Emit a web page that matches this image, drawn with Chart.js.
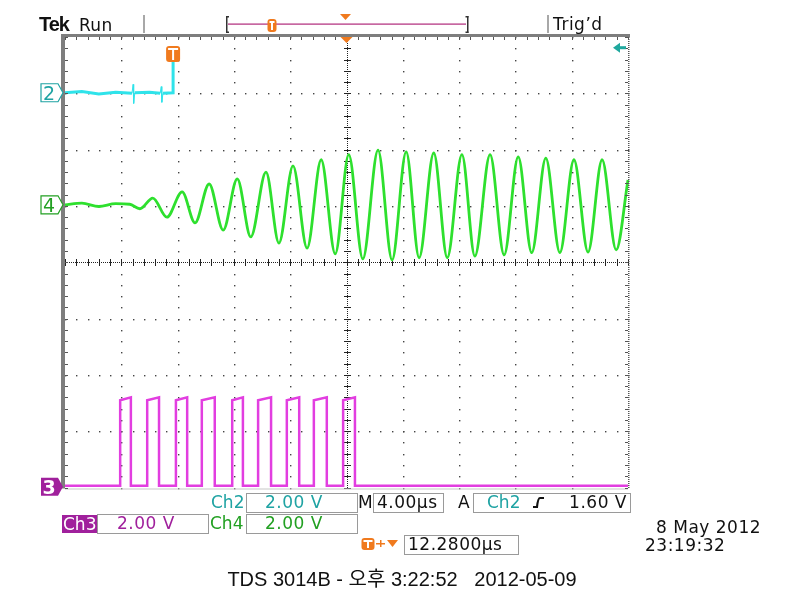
<!DOCTYPE html>
<html lang="ko">
<head>
<meta charset="utf-8">
<title>TDS 3014B</title>
<style>
  html, body { margin: 0; padding: 0; background: #fff; }
  #wrap { width: 800px; height: 600px; position: relative; }
</style>
</head>
<body>
<div id="wrap"><canvas id="scope"></canvas></div>
<script src="https://cdn.jsdelivr.net/npm/chart.js"></script>
<script>
// screen: 10 x 8 divisions, all trace values are in divisions
const xRange = [0, 10];
const yRange = [-4, 4];

// Ch2 (cyan) - stops at the trigger point
const ch2X = [0, 0.3, 0.6, 0.9, 1.19, 1.21, 1.22, 1.24, 1.5, 1.69, 1.71, 1.72, 1.74, 1.92, 1.92];
const ch2Y = [3.01, 3.03, 2.99, 3.02, 3.0, 3.16, 2.82, 3.01, 3.02, 3.0, 3.12, 2.84, 3.0, 3.01, 3.59];

// Ch4 (green) - growing oscillation, peaks and troughs
const ch4X = [0, 0.3, 0.6, 0.9, 1.15, 1.33, 1.56, 1.81, 2.08, 2.31, 2.56, 2.81, 3.06, 3.30, 3.57, 3.80,
              4.05, 4.30, 4.55, 4.80, 5.04, 5.29, 5.56, 5.81, 6.06, 6.29, 6.55, 6.79, 7.05, 7.28,
              7.55, 7.80, 8.05, 8.29, 8.54, 8.79, 9.04, 9.29, 9.54, 9.79, 10.0];
const ch4Y = [1.02, 1.05, 0.99, 1.04, 1.03, 0.95, 1.14, 0.80, 1.25, 0.70, 1.39, 0.57, 1.48, 0.45, 1.60, 0.34,
              1.71, 0.25, 1.82, 0.15, 1.91, 0.06, 1.99, 0.04, 1.96, 0.08, 1.94, 0.08, 1.91, 0.11,
              1.91, 0.13, 1.87, 0.17, 1.85, 0.17, 1.82, 0.18, 1.82, 0.22, 1.46];

// Ch3 (magenta) - pulse train
const ch3Low = -3.97;
const ch3High = -2.40;
const ch3Rise = [0.98, 1.46, 1.97, 2.43, 2.97, 3.43, 3.94, 4.42, 4.94];
const ch3Fall = [1.17, 1.67, 2.17, 2.66, 3.16, 3.66, 4.16, 4.65, 5.15];

// readouts
const chLabels = ['Ch2', 'Ch3', 'Ch4'];
const chVolts = ['2.00 V', '2.00 V', '2.00 V'];
const timeDiv = '4.00\u00b5s';
const trigLevel = '1.60 V';
const trigDelay = '12.2800\u00b5s';

const ch4Pts = ch4X.map((x, i) => ({ x: x, y: ch4Y[i] }));
const ch2Pts = ch2X.map((x, i) => ({ x: x, y: ch2Y[i] }));
const ch3Pts = [{ x: 0, y: ch3Low }];
ch3Rise.forEach((r, i) => {
    ch3Pts.push({ x: r, y: ch3Low }, { x: r, y: ch3High - 0.05 }, { x: ch3Fall[i], y: ch3High },
                { x: ch3Fall[i], y: ch3Low });
});
ch3Pts.push({ x: 10, y: ch3Low });

const TEAL = '#1fa3a3', GREEN = '#22a022', PURPLE = '#a0209c', ORANGE = '#f07a1e';
const SCOPE_FONT = '"DejaVu Sans", sans-serif';

function txt(ctx, s, x, y, color, size, opts) {
    opts = opts || {};
    ctx.save();
    ctx.font = (opts.bold ? 'bold ' : '') + size + 'px ' + (opts.family || SCOPE_FONT);
    ctx.fillStyle = color;
    ctx.textAlign = opts.align || 'left';
    ctx.textBaseline = 'alphabetic';
    ctx.letterSpacing = (opts.spacing || 0) + 'px';
    ctx.fillText(s, x, y);
    ctx.restore();
}

function box(ctx, x0, y0, x1, y1) {
    ctx.strokeStyle = '#9a9a9a';
    ctx.lineWidth = 1;
    ctx.strokeRect(x0 + 0.5, y0 + 0.5, x1 - x0, y1 - y0);
}

function tMarker(ctx, cx, top, w, h) {
    ctx.fillStyle = ORANGE;
    ctx.beginPath();
    ctx.roundRect(cx - w / 2, top, w, h, 3);
    ctx.fill();
    ctx.fillStyle = '#fff';
    ctx.fillRect(cx - w / 2 + 2, top + 2, w - 4, 2);
    ctx.fillRect(cx - 1, top + 2, 2, h - 4);
}

function chMarker(ctx, y, label, color, filled) {
    const x0 = 41, x1 = 58, tip = 63, h = 9;
    ctx.beginPath();
    ctx.moveTo(x0, y - h); ctx.lineTo(x1, y - h); ctx.lineTo(tip, y);
    ctx.lineTo(x1, y + h); ctx.lineTo(x0, y + h); ctx.closePath();
    if (filled) {
        ctx.fillStyle = color; ctx.fill();
    } else {
        ctx.fillStyle = '#fff'; ctx.fill();
        ctx.strokeStyle = color; ctx.lineWidth = 1.2; ctx.stroke();
    }
    txt(ctx, label, 49, y + 7, filled ? '#fff' : color, 19, { align: 'center', bold: filled });
}

const scopeDeco = {
    id: 'scopeDeco',
    beforeDatasetsDraw(chart) {
        const ctx = chart.ctx, xs = chart.scales.x, ys = chart.scales.y;
        const a = chart.chartArea;
        ctx.save();
        ctx.fillStyle = '#444';
        // dotted graticule
        for (let i = 1; i < 10; i++) {
            if (i === 5) continue;
            const px = Math.round(xs.getPixelForValue(i));
            for (let v = -4; v <= 4.001; v += 0.2) {
                ctx.fillRect(px, Math.round(ys.getPixelForValue(v)), 1.4, 1.4);
            }
        }
        for (let j = -3; j <= 3; j++) {
            if (j === 0) continue;
            const py = Math.round(ys.getPixelForValue(j));
            for (let v = 0; v <= 10.001; v += 0.2) {
                ctx.fillRect(Math.round(xs.getPixelForValue(v)), py, 1.4, 1.4);
            }
        }
        // centre cross with minor ticks
        const cx = Math.round(xs.getPixelForValue(5)), cy = Math.round(ys.getPixelForValue(0));
        ctx.fillStyle = '#222';
        for (let y = a.top; y < a.bottom; y += 2) ctx.fillRect(cx, y, 1, 1);
        for (let x = a.left; x < a.right; x += 2) ctx.fillRect(x, cy, 1, 1);
        for (let v = -4; v <= 4.001; v += 0.2) {
            ctx.fillRect(cx - 3, Math.round(ys.getPixelForValue(v)), 7, 1);
        }
        for (let v = 0; v <= 10.001; v += 0.2) {
            ctx.fillRect(Math.round(xs.getPixelForValue(v)), cy - 3, 1, 7);
        }
        ctx.restore();
    },
    afterDraw(chart) {
        const ctx = chart.ctx, xs = chart.scales.x, ys = chart.scales.y;
        const a = chart.chartArea;
        ctx.save();
        // frame
        ctx.fillStyle = '#7e7e7e';
        ctx.fillRect(a.left - 4, a.top - 3, a.right - a.left + 6, 3);
        ctx.fillRect(a.left - 4, a.top - 3, 4, a.bottom - a.top + 4);
        ctx.fillStyle = '#c8c8c8';
        ctx.fillRect(a.left, a.bottom + 1, a.right - a.left, 1);
        ctx.fillStyle = '#555';
        for (let v = 0; v <= 10.001; v += 0.2) {
            const px = Math.round(xs.getPixelForValue(v));
            ctx.fillRect(px, a.top, 1, 3);
        }
        for (let v = -4; v <= 4.001; v += 0.2) {
            const py = Math.round(ys.getPixelForValue(v));
            ctx.fillRect(a.left, py, 3, 1);
            ctx.fillRect(a.right - 3, py, 3, 1);
        }
        for (let y = a.top; y < a.bottom; y += 2) ctx.fillRect(a.right, y, 1.5, 1);

        // channel ground markers
        chMarker(ctx, ys.getPixelForValue(ch2Y[0]), '2', TEAL, false);
        chMarker(ctx, ys.getPixelForValue(ch4Y[0]), '4', GREEN, false);
        chMarker(ctx, ys.getPixelForValue(ch3Low) + 1, '3', PURPLE, true);

        // trigger point marker on Ch2
        tMarker(ctx, xs.getPixelForValue(ch2X[ch2X.length - 1]), 46, 14, 16);

        // trigger level arrow (right edge)
        const ty = ys.getPixelForValue(ch2Y[0] + 0.8);
        ctx.fillStyle = '#1fa89e';
        ctx.beginPath();
        ctx.moveTo(a.right - 15, ty); ctx.lineTo(a.right - 8, ty - 5); ctx.lineTo(a.right - 8, ty + 5);
        ctx.closePath(); ctx.fill();
        ctx.fillRect(a.right - 9, ty - 1.5, 7, 3);

        // expansion point triangle at top of graticule
        const mx = xs.getPixelForValue(5);
        ctx.fillStyle = ORANGE;
        ctx.beginPath();
        ctx.moveTo(mx - 6, a.top); ctx.lineTo(mx + 6, a.top); ctx.lineTo(mx, a.top + 6);
        ctx.closePath(); ctx.fill();

        // header
        txt(ctx, 'Tek', 39, 31, '#111', 20, { bold: true, family: '"Liberation Sans", sans-serif', spacing: -1 });
        txt(ctx, 'Run', 79, 31, '#111', 17, { spacing: 0.3 });
        ctx.fillStyle = '#a8a8a8';
        ctx.fillRect(143, 15, 2, 18);
        ctx.fillRect(547, 15, 2, 18);
        txt(ctx, 'Trig\u2019d', 553, 30, '#111', 17, { spacing: 0.5 });
        // record view bar
        ctx.fillStyle = '#333';
        ctx.fillRect(226, 16, 1.5, 17); ctx.fillRect(226, 16, 3, 1.5); ctx.fillRect(226, 31.5, 3, 1.5);
        ctx.fillRect(467, 16, 1.5, 17); ctx.fillRect(465.5, 16, 3, 1.5); ctx.fillRect(465.5, 31.5, 3, 1.5);
        ctx.fillStyle = '#b0287a';
        ctx.fillRect(228, 23.5, 238, 1.2);
        tMarker(ctx, 272, 19, 9, 13);
        ctx.fillStyle = ORANGE;
        ctx.beginPath();
        ctx.moveTo(340, 14); ctx.lineTo(351, 14); ctx.lineTo(345.5, 20); ctx.closePath(); ctx.fill();

        // readouts row 1
        txt(ctx, chLabels[0], 211, 508, TEAL, 17, { spacing: 0 });
        box(ctx, 246, 493, 357, 512);
        txt(ctx, chVolts[0], 265, 508, TEAL, 17, { spacing: 0.5 });
        txt(ctx, 'M', 358, 508, '#111', 17);
        box(ctx, 373, 493, 443, 512);
        txt(ctx, timeDiv, 377, 508, '#111', 17, { spacing: 0.5 });
        txt(ctx, 'A', 458, 508, '#111', 17);
        box(ctx, 473, 493, 630, 512);
        txt(ctx, 'Ch2', 487, 508, TEAL, 17);
        ctx.strokeStyle = '#111'; ctx.lineWidth = 2.2;
        ctx.beginPath();
        ctx.moveTo(533, 507); ctx.lineTo(537, 507); ctx.quadraticCurveTo(538, 498, 540, 498); ctx.lineTo(544, 498);
        ctx.stroke();
        txt(ctx, trigLevel, 627, 508, '#111', 17, { align: 'right', spacing: 0.5 });

        // row 2
        ctx.fillStyle = PURPLE;
        ctx.fillRect(62, 515, 35, 18);
        txt(ctx, chLabels[1], 63, 530, '#fff', 17);
        box(ctx, 97, 514, 208, 533);
        txt(ctx, chVolts[1], 117, 529, PURPLE, 17, { spacing: 0.5 });
        txt(ctx, chLabels[2], 210, 529, GREEN, 17);
        box(ctx, 246, 514, 357, 533);
        txt(ctx, chVolts[2], 265, 529, GREEN, 17, { spacing: 0.5 });

        // row 3 - trigger delay
        tMarker(ctx, 368, 538, 13, 12);
        ctx.fillStyle = ORANGE;
        ctx.fillRect(376, 543, 9, 1.5);
        ctx.fillRect(380, 540, 1.5, 7);
        ctx.beginPath();
        ctx.moveTo(387, 540); ctx.lineTo(398, 540); ctx.lineTo(392.5, 547); ctx.closePath(); ctx.fill();
        box(ctx, 404, 535, 518, 554);
        txt(ctx, trigDelay, 408, 550, '#111', 17, { spacing: 0.5 });

        // date / time
        txt(ctx, '8 May 2012', 656, 533, '#111', 17, { spacing: 0.5 });
        txt(ctx, '23:19:32', 645, 551, '#111', 17, { spacing: 0.5 });

        // caption
        txt(ctx, 'TDS 3014B - \uc624\ud6c4 3:22:52   2012-05-09', 402, 586, '#111', 20,
            { align: 'center', family: '"Liberation Sans", "Noto Sans CJK KR", sans-serif' });
        ctx.restore();
    }
};

const ctx = document.getElementById('scope').getContext('2d');
new Chart(ctx, {
    type: 'line',
    data: {
        datasets: [
            {
                label: 'Ch3', data: ch3Pts, borderColor: '#e23ee0', borderWidth: 2.5,
                tension: 0, pointRadius: 0, clip: 6
            },
            {
                label: 'Ch4', data: ch4Pts, borderColor: '#2ee02e', borderWidth: 2.8,
                cubicInterpolationMode: 'monotone', pointRadius: 0, clip: 6
            },
            {
                label: 'Ch2', data: ch2Pts, borderColor: '#2fe3ea', borderWidth: 3,
                tension: 0, pointRadius: 0, clip: 30,
                segment: { borderWidth: c => (Math.abs(c.p1.parsed.y - c.p0.parsed.y) > 0.1 && c.p1.parsed.x < 1.9) ? 1 : 3 }
            }
        ]
    },
    options: {
        responsive: true,
        maintainAspectRatio: false,
        animation: false,
        layout: { padding: { left: 65, right: 172, top: 37, bottom: 112.5 } },
        scales: {
            x: { type: 'linear', min: xRange[0], max: xRange[1], display: false },
            y: { type: 'linear', min: yRange[0], max: yRange[1], display: false }
        },
        plugins: { legend: { display: false }, tooltip: { enabled: false } }
    },
    plugins: [scopeDeco]
});
</script>
</body>
</html>
